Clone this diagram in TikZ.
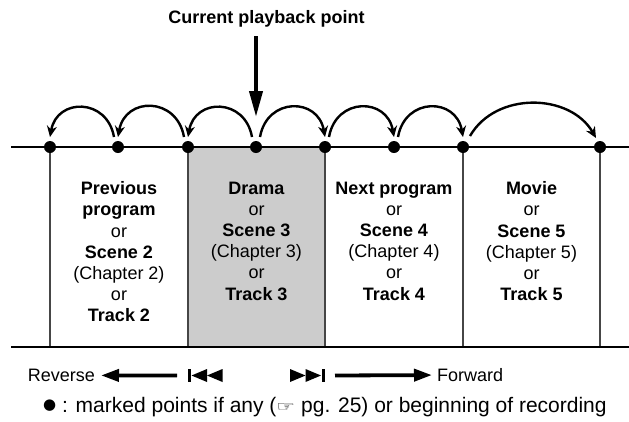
\documentclass[tikz,border=0pt]{standalone}
\usepackage{fontspec}
\setmainfont{Liberation Sans}
\newfontfamily\symfont{DejaVu Sans}
\usetikzlibrary{arrows.meta,positioning}
\definecolor{shadegray}{RGB}{204,204,204}
\definecolor{rulegray}{RGB}{70,70,70}

\begin{document}
\begin{tikzpicture}[x=1pt,y=-1pt,font=\fontsize{18}{21.2}\selectfont,
  pdot/.style={circle, fill=black, inner sep=0pt, minimum size=12pt},
  jump/.style={-{Stealth[length=11pt,width=10pt]}, line width=2.4pt},
  segline/.style={draw=rulegray, line width=1.2pt},
  coltext/.style={anchor=north, align=center, inner sep=0pt},
  dirarrow/.style={-{Triangle[length=18pt,width=12pt]}, line width=3.8pt}]
\useasboundingbox (0,0) rectangle (629,421);

% shaded current chapter
\fill[shadegray] (188,147) rectangle (325,347);
\foreach \x in {50,188,325,463,600}
  \draw[segline] (\x,147) -- (\x,347);

\coordinate (topL) at (11,147);
\coordinate (topR) at (629,147);
\coordinate (botL) at (11,347);
\coordinate (botR) at (629,347);
\draw[line width=2.2pt] (topL) -- (topR);
\draw[line width=2.2pt] (botL) -- (botR);

% marked points
\foreach \i/\x in {1/50,2/118,3/188,4/256,5/325,6/394,7/463,8/600}
  \node[pdot] (p\i) at (\x,147) {};

% skips back and forward
\foreach \a/\b in {2/1,3/2,4/3}
  \draw[jump] ([shift={(-4pt,10pt)}]p\a.center) to[out=100,in=80,looseness=1.6] ([shift={(0pt,10pt)}]p\b.center);
\foreach \a/\b in {4/5,5/6,6/7}
  \draw[jump] ([shift={(4pt,10pt)}]p\a.center) to[out=80,in=100,looseness=1.6] ([shift={(0pt,10pt)}]p\b.center);
\draw[jump] ([shift={(7pt,11pt)}]p7.center) to[out=60,in=120,looseness=1.05] ([shift={(-4pt,9pt)}]p8.center);

\node[anchor=base, font=\fontsize{18}{21.2}\selectfont\bfseries] (cur) at (266.5,23.5) {Current playback point};
\coordinate (curtail) at (256,36);
\draw[line width=4pt, -{Triangle[length=26pt,width=13pt]}] (curtail) -- ([yshift=30pt]p4.center);

% chapter contents
\node[coltext] (prevprog) at (119,181.5) {\textbf{Previous}\\\textbf{program}\\or\\\textbf{Scene 2}\\(Chapter 2)\\or\\\textbf{Track 2}};
\node[coltext] (drama) at (256.5,181.5) {\textbf{Drama}\\or\\\textbf{Scene 3}\\(Chapter 3)\\or\\\textbf{Track 3}};
\node[coltext] (nextprog) at (394,181.5) {\textbf{Next program}\\or\\\textbf{Scene 4}\\(Chapter 4)\\or\\\textbf{Track 4}};
\node[coltext] (movie) at (531.5,181.5) {\textbf{Movie}\\or\\\textbf{Scene 5}\\(Chapter 5)\\or\\\textbf{Track 5}};

% direction keys
\node[anchor=base east, inner sep=6pt] (rev) at (101,381.5) {Reverse};
\node[anchor=base west, inner sep=5pt] (fwd) at (432,381.5) {Forward};
\coordinate (revtail) at (177,375.5);
\coordinate (fwdtail) at (335,375.5);
\draw[dirarrow] (revtail) -- (rev.east);
\draw[dirarrow] (fwdtail) -- (fwd.west);

% skip symbols
\fill (187.5,369) rectangle (190.5,382);
\fill (191.5,375.5) -- (207,369) -- (207,382) -- cycle;
\fill (207,375.5) -- (222.5,369) -- (222.5,382) -- cycle;
\fill (290,369) -- (305.5,375.5) -- (290,382) -- cycle;
\fill (305.5,369) -- (321,375.5) -- (305.5,382) -- cycle;
\fill (322,369) rectangle (325,382);

\node[anchor=base west, inner sep=0pt, font=\fontsize{21}{24}\selectfont] (legend) at (43,412) {\raisebox{2.5pt}{\symfont\fontsize{15}{15}\selectfont ●} : marked points if any (\raisebox{1pt}{\scalebox{1.5}[1]{\symfont\fontsize{14}{14}\selectfont ☞}} pg. 25) or beginning of recording};
\end{tikzpicture}
\end{document}
